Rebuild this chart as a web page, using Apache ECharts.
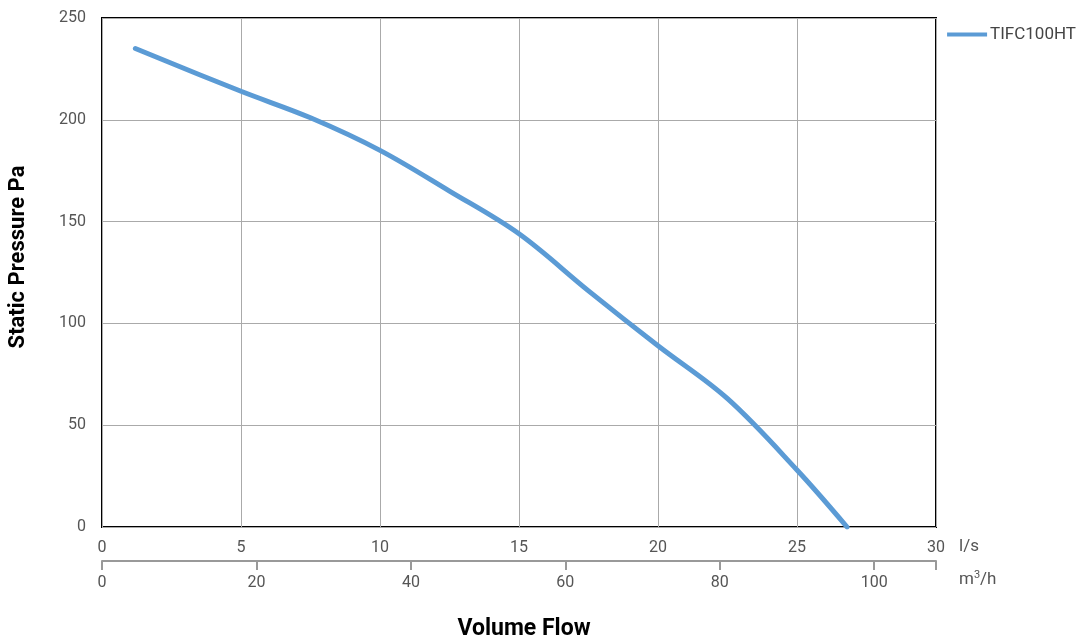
<!DOCTYPE html>
<html>
<head>
<meta charset="utf-8">
<script src="https://cdn.jsdelivr.net/npm/echarts@6/dist/echarts.min.js"></script>
<style>html,body{margin:0;padding:0;background:#fff}#c{width:1082px;height:640px}</style>
</head>
<body>
<div id="c"></div>
<script>
const seriesName = 'TIFC100HT';
const flowLs = [1.2, 5, 7.5, 10, 12.5, 15, 17.5, 20, 22.5, 25, 26.8];
const pressurePa = [235, 214, 201, 185, 165, 144, 116, 89, 63, 28, 0];
const yTicks = [0, 50, 100, 150, 200, 250];
const lsTicks = [0, 5, 10, 15, 20, 25, 30];
const m3hTicks = [0, 20, 40, 60, 80, 100];
const m3hMax = 108;

const font = 'Roboto, "Liberation Sans", sans-serif';
const boldFont = 'Roboto, "Liberation Sans", sans-serif';
const chart = echarts.init(document.getElementById('c'), null, {renderer: 'canvas'});
chart.setOption({
  animation: false,
  backgroundColor: '#fff',
  grid: {left: 102, right: 146, top: 18, bottom: 113, show: true, borderColor: '#000', borderWidth: 2, containLabel: false},
  legend: {
    right: 1, top: 21, icon: 'path://M0,0 L40,0 L40,4 L0,4 Z', itemWidth: 40, itemHeight: 4, itemGap: 4,
    textStyle: {fontFamily: font, fontSize: 17, color: '#444', padding: [0, 0, 0, -2]},
    data: [seriesName]
  },
  xAxis: [{
    type: 'value', position: 'bottom', min: lsTicks[0], max: lsTicks[lsTicks.length - 1], interval: 5,
    axisLine: {show: false}, axisTick: {show: false},
    splitLine: {show: true, lineStyle: {color: '#aaa', width: 1}},
    axisLabel: {margin: 13, fontFamily: font, fontSize: 16, color: '#555'}
  }, {
    type: 'value', position: 'bottom', offset: 34, min: 0, max: m3hMax, interval: 20,
    axisLine: {show: true, onZero: false, lineStyle: {color: '#999', width: 2}},
    axisTick: {show: true, inside: false, length: 9, lineStyle: {color: '#999', width: 2}, customValues: m3hTicks.concat([m3hMax])},
    splitLine: {show: false},
    axisLabel: {margin: 14, fontFamily: font, fontSize: 16, color: '#555', customValues: m3hTicks}
  }],
  yAxis: {
    type: 'value', min: yTicks[0], max: yTicks[yTicks.length - 1], interval: 50,
    axisLine: {show: false}, axisTick: {show: false},
    splitLine: {show: true, lineStyle: {color: '#aaa', width: 1}},
    axisLabel: {margin: 16, fontFamily: font, fontSize: 16, color: '#555'}
  },
  graphic: [
    {type: 'text', x: 18, y: 257, rotation: Math.PI / 2, style: {text: 'Static Pressure Pa', fontFamily: boldFont, fontWeight: 'bold', fontSize: 22, fill: '#000', align: 'center', verticalAlign: 'middle'}},
    {type: 'text', left: 959, top: 538, style: {text: 'l/s', fontFamily: font, fontSize: 17, fill: '#555'}},
    {type: 'text', left: 959, top: 570, style: {text: '{a|m}{s|3}{a|/h}', fontFamily: font, fontSize: 17, fill: '#555',
      rich: {a: {fontFamily: font, fontSize: 17, color: '#555'}, s: {fontFamily: font, fontSize: 11, color: '#555', verticalAlign: 'top', padding: [0, 0, 8, 0]}}}},
    {type: 'text', x: 524, y: 629, style: {text: 'Volume Flow', fontFamily: boldFont, fontWeight: 'bold', fontSize: 23, fill: '#000', align: 'center', verticalAlign: 'middle'}}
  ],
  series: [{
    name: seriesName, type: 'line', xAxisIndex: 0, smooth: 0.35, symbol: 'none',
    lineStyle: {color: '#5b9bd5', width: 5, cap: 'round'},
    itemStyle: {color: '#5b9bd5'},
    data: flowLs.map((x, i) => [x, pressurePa[i]])
  }]
});
</script>
</body>
</html>
